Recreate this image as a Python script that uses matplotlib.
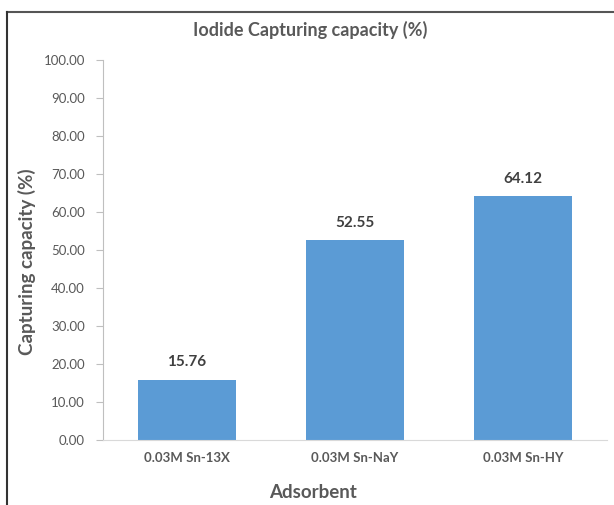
import matplotlib
matplotlib.use("Agg")
import matplotlib.pyplot as plt
from matplotlib.lines import Line2D

categories = ["0.03M Sn-13X", "0.03M Sn-NaY", "0.03M Sn-HY"]
values = [15.76, 52.55, 64.12]
yticks = [0, 10, 20, 30, 40, 50, 60, 70, 80, 90, 100]

plt.rcParams['font.family'] = ['Lato', 'DejaVu Sans']

W, H = 614, 505
fig = plt.figure(figsize=(W/100, H/100), dpi=100)
ax = fig.add_axes([103/W, 1-440/H, (607-103)/W, (440-60)/H])

x = list(range(len(categories)))
bars = ax.bar(x, values, width=0.58, color="#5b9bd5")
for xi, v in zip(x, values):
    ax.text(xi, v + 2.8, f"{v:.2f}", ha="center", va="bottom", fontsize=11,
            fontweight="bold", color="#404040")

ax.set_xlim(-0.5, len(categories) - 0.5)
ax.set_ylim(0, 100)
ax.set_yticks(yticks)
ax.set_yticklabels([f"{t:.2f}" for t in yticks])
ax.set_xticks(x)
ax.set_xticklabels(categories)
ax.tick_params(axis="y", colors="#bfbfbf", labelcolor="#595959", labelsize=9.5, length=5, direction="out", pad=8)
ax.tick_params(axis="x", length=0, labelcolor="#595959", labelsize=9.5, pad=9)
for lbl in ax.get_xticklabels():
    lbl.set_fontweight("bold")

for s in ["top", "right"]:
    ax.spines[s].set_visible(False)
ax.spines["left"].set_color("#bfbfbf")
ax.spines["bottom"].set_color("#d9d9d9")

fig.text(310/W, 1-30/H, "Iodide Capturing capacity (%)", fontsize=13, fontweight="bold",
         color="#595959", ha="center", va="center")
fig.text(27/W, 1-262/H, "Capturing capacity (%)", fontsize=13.5, fontweight="bold",
         color="#595959", ha="center", va="center", rotation=90)
fig.text(313/W, 1-492/H, "Adsorbent", fontsize=13.5, fontweight="bold",
         color="#595959", ha="center", va="center")

fig.add_artist(Line2D([7/W, 1], [1-12/H, 1-12/H], color="#555555", lw=1.5, transform=fig.transFigure))
fig.add_artist(Line2D([7/W, 7/W], [0, 1-12/H], color="#333333", lw=1.5, transform=fig.transFigure))

fig.savefig("out.png", dpi=100)
